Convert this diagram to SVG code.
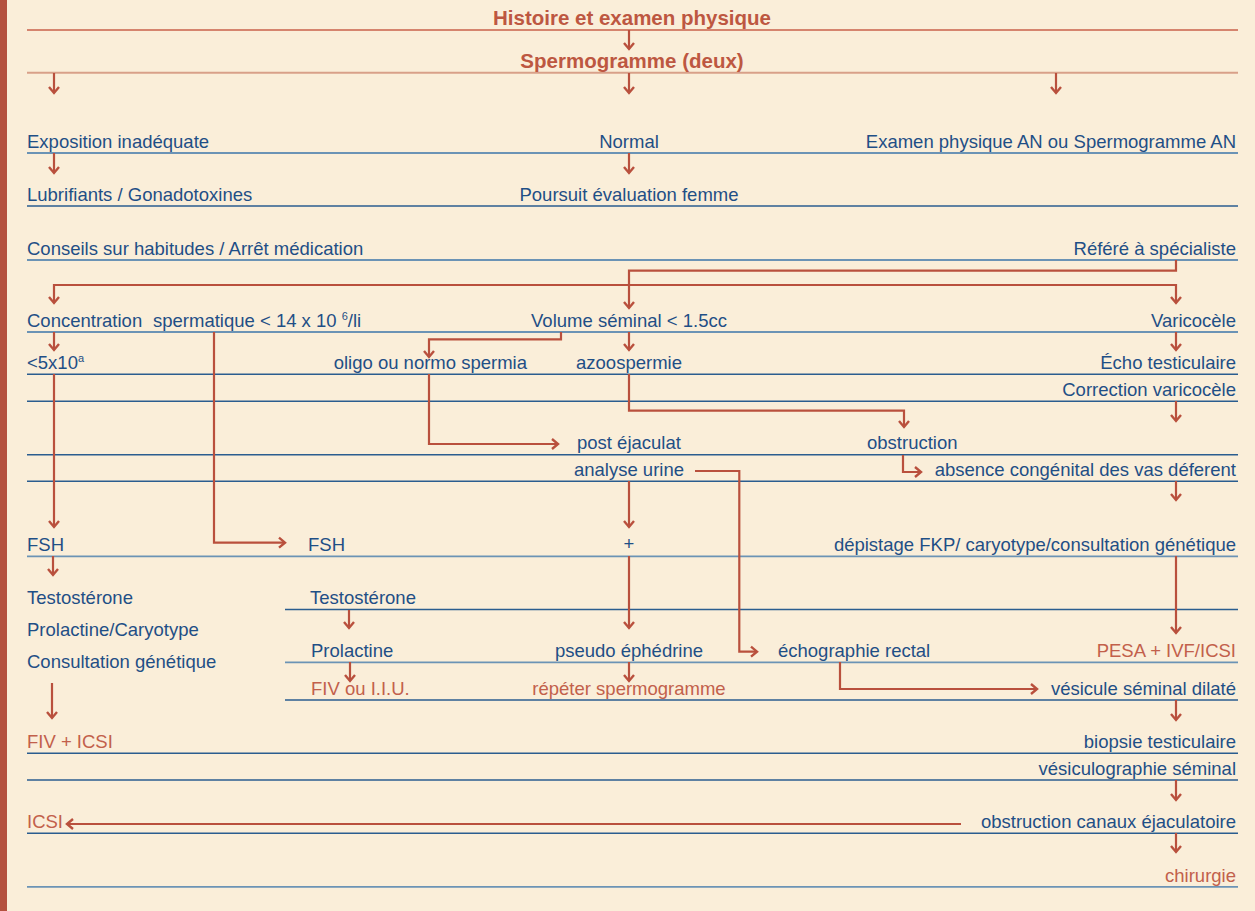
<svg xmlns="http://www.w3.org/2000/svg" width="1255" height="911" viewBox="0 0 1255 911">
<style>
text{font-family:"Liberation Sans",Arial,sans-serif;font-size:18.5px;fill:#1f4f86}
.t{font-weight:bold;font-size:20.5px;fill:#bd5741;text-anchor:middle}
.r{fill:#c2604b}
.m{text-anchor:middle}
.e{text-anchor:end}
.rl{stroke:#2a5d8f;stroke-width:1.4;fill:none}
.rll{stroke:#6b93b5;stroke-width:1.8;fill:none}
.c{stroke:#b9503d;stroke-width:2.2;fill:none;marker-end:url(#ah)}
</style>
<defs>
<marker id="ah" markerUnits="userSpaceOnUse" viewBox="-9 -7 11 14" refX="0" refY="0" markerWidth="11" markerHeight="14" orient="auto">
<path d="M-6,-5 L0,0 L-6,5" fill="none" stroke="#b9503d" stroke-width="2.4"/>
</marker>
</defs>
<rect x="0" y="0" width="1255" height="911" fill="#faeed9"/>
<rect x="0" y="0" width="7" height="911" fill="#b4513f"/>
<g id="rules">
<line x1="27" y1="30" x2="1238" y2="30" stroke="#c8604a" stroke-width="1.4"/>
<line x1="27" y1="72.7" x2="1238" y2="72.7" stroke="#d8a089" stroke-width="2"/>
<line class="rll" x1="27" y1="153" x2="1238" y2="153"/>
<line class="rl" x1="27" y1="206" x2="1238" y2="206"/>
<line class="rll" x1="27" y1="260" x2="1238" y2="260"/>
<line class="rll" x1="27" y1="332" x2="1238" y2="332"/>
<line class="rl" x1="27" y1="374.3" x2="1238" y2="374.3"/>
<line class="rl" x1="27" y1="401.3" x2="1238" y2="401.3"/>
<line class="rl" x1="27" y1="454.7" x2="1238" y2="454.7"/>
<line class="rl" x1="27" y1="481.3" x2="1238" y2="481.3"/>
<line class="rll" x1="27" y1="556.3" x2="1238" y2="556.3"/>
<line class="rl" x1="285" y1="609.5" x2="1238" y2="609.5"/>
<line class="rll" x1="285" y1="662.3" x2="1238" y2="662.3"/>
<line class="rl" x1="285" y1="700" x2="1238" y2="700"/>
<line class="rl" x1="27" y1="753.3" x2="1238" y2="753.3"/>
<line class="rl" x1="27" y1="780" x2="1238" y2="780"/>
<line class="rl" x1="27" y1="833.3" x2="1238" y2="833.3"/>
<line class="rll" x1="27" y1="886.8" x2="1238" y2="886.8"/>
</g>
<g id="connectors">
<line class="c" x1="629" y1="30" x2="629" y2="49"/>
<line class="c" x1="54" y1="73" x2="54" y2="93"/>
<line class="c" x1="629" y1="73" x2="629" y2="93"/>
<line class="c" x1="1056" y1="73" x2="1056" y2="93"/>
<line class="c" x1="54" y1="153" x2="54" y2="173"/>
<line class="c" x1="629" y1="153" x2="629" y2="173"/>
<path class="c" d="M1176,260 V270.7 H629 V308"/>
<path class="c" d="M1176,285 H54 V303"/>
<path class="c" d="M54,285 H1176 V303"/>
<line class="c" x1="54" y1="332" x2="54" y2="350"/>
<path class="c" d="M561,332 V339.3 H429 V357"/>
<line class="c" x1="629" y1="332" x2="629" y2="350"/>
<line class="c" x1="1176" y1="332" x2="1176" y2="350"/>
<line class="c" x1="54" y1="374" x2="54" y2="527"/>
<path class="c" d="M214,332 V542.7 H285"/>
<path class="c" d="M429,374 V444 H558"/>
<path class="c" d="M629,374 V410.7 H904 V427"/>
<line class="c" x1="1176" y1="401" x2="1176" y2="421"/>
<path class="c" d="M903,455 V472 H921"/>
<line class="c" x1="629" y1="481" x2="629" y2="527"/>
<path class="c" d="M695,471 H739.3 V651.7 H757"/>
<line class="c" x1="1176" y1="481" x2="1176" y2="500"/>
<line class="c" x1="53" y1="556" x2="53" y2="575"/>
<line class="c" x1="629" y1="556" x2="629" y2="628"/>
<line class="c" x1="1176" y1="556" x2="1176" y2="633"/>
<line class="c" x1="349" y1="610" x2="349" y2="628"/>
<line class="c" x1="350" y1="662" x2="350" y2="681"/>
<line class="c" x1="629" y1="662" x2="629" y2="681"/>
<path class="c" d="M840,662 V689 H1037"/>
<line class="c" x1="52" y1="683" x2="52" y2="718"/>
<line class="c" x1="1176" y1="700" x2="1176" y2="720"/>
<line class="c" x1="1176" y1="780" x2="1176" y2="800"/>
<line class="c" x1="961" y1="824" x2="67" y2="824"/>
<line class="c" x1="1176" y1="833" x2="1176" y2="852"/>
</g>
<g id="n-histoire"><text class="t" x="632" y="25">Histoire et examen physique</text></g>
<g id="n-spermo"><text class="t" x="632" y="67.5">Spermogramme (deux)</text></g>
<g id="n-exposition"><text x="27" y="148">Exposition inadéquate</text></g>
<g id="n-normal"><text class="m" x="629" y="148">Normal</text></g>
<g id="n-examen"><text class="e" x="1236" y="148">Examen physique AN ou Spermogramme AN</text></g>
<g id="n-lubrifiants"><text x="27" y="201">Lubrifiants / Gonadotoxines</text></g>
<g id="n-poursuit"><text class="m" x="629" y="200.5">Poursuit évaluation femme</text></g>
<g id="n-conseils"><text x="27" y="255">Conseils sur habitudes / Arrêt médication</text></g>
<g id="n-refere"><text class="e" x="1236" y="255">Référé à spécialiste</text></g>
<g id="n-concentration"><text x="27" y="327">Concentration <tspan x="153">spermatique &lt; 14 x 10 </tspan><tspan font-size="11" dy="-7">6</tspan><tspan dy="7">/li</tspan></text></g>
<g id="n-volume"><text class="m" x="629" y="327">Volume séminal &lt; 1.5cc</text></g>
<g id="n-varicocele"><text class="e" x="1236" y="327">Varicocèle</text></g>
<g id="n-5x10"><text x="27" y="369">&lt;5x10<tspan font-size="11" dy="-7">a</tspan></text></g>
<g id="n-oligo"><text class="e" x="527" y="369">oligo ou normo spermia</text></g>
<g id="n-azoo"><text class="m" x="629" y="369">azoospermie</text></g>
<g id="n-echo"><text class="e" x="1236" y="369">Écho testiculaire</text></g>
<g id="n-correction"><text class="e" x="1236" y="396">Correction varicocèle</text></g>
<g id="n-post"><text x="577" y="448.5">post éjaculat</text></g>
<g id="n-obstruction"><text x="867" y="448.5">obstruction</text></g>
<g id="n-analyse"><text class="m" x="629" y="475.7">analyse urine</text></g>
<g id="n-absence"><text class="e" x="1236" y="475.7">absence congénital des vas déferent</text></g>
<g id="n-fsh1"><text x="27" y="551">FSH</text></g>
<g id="n-fsh2"><text x="308" y="551">FSH</text></g>
<g id="n-plus"><text class="m" x="629" y="550">+</text></g>
<g id="n-depistage"><text class="e" x="1236" y="551">dépistage FKP/ caryotype/consultation génétique</text></g>
<g id="n-tests1">
<text x="27" y="604">Testostérone</text>
<text x="27" y="636">Prolactine/Caryotype</text>
<text x="27" y="668.3">Consultation génétique</text>
</g>
<g id="n-testo2"><text x="310" y="604">Testostérone</text></g>
<g id="n-prolactine"><text x="311" y="657">Prolactine</text></g>
<g id="n-pseudo"><text class="m" x="629" y="657">pseudo éphédrine</text></g>
<g id="n-echorectal"><text x="778" y="657">échographie rectal</text></g>
<g id="n-pesa"><text class="e r" x="1236" y="657">PESA + IVF/ICSI</text></g>
<g id="n-fiv-iiu"><text class="r" x="311" y="695">FIV ou I.I.U.</text></g>
<g id="n-repeter"><text class="m r" x="629" y="695">répéter spermogramme</text></g>
<g id="n-vesicule"><text class="e" x="1236" y="695">vésicule séminal dilaté</text></g>
<g id="n-fiv-icsi"><text class="r" x="27" y="748.3">FIV + ICSI</text></g>
<g id="n-biopsie"><text class="e" x="1236" y="748">biopsie testiculaire</text></g>
<g id="n-vesiculographie"><text class="e" x="1236" y="775">vésiculographie séminal</text></g>
<g id="n-icsi"><text class="r" x="27" y="828">ICSI</text></g>
<g id="n-obstruction-canaux"><text class="e" x="1236" y="828">obstruction canaux éjaculatoire</text></g>
<g id="n-chirurgie"><text class="e r" x="1236" y="881.7">chirurgie</text></g>
</svg>
